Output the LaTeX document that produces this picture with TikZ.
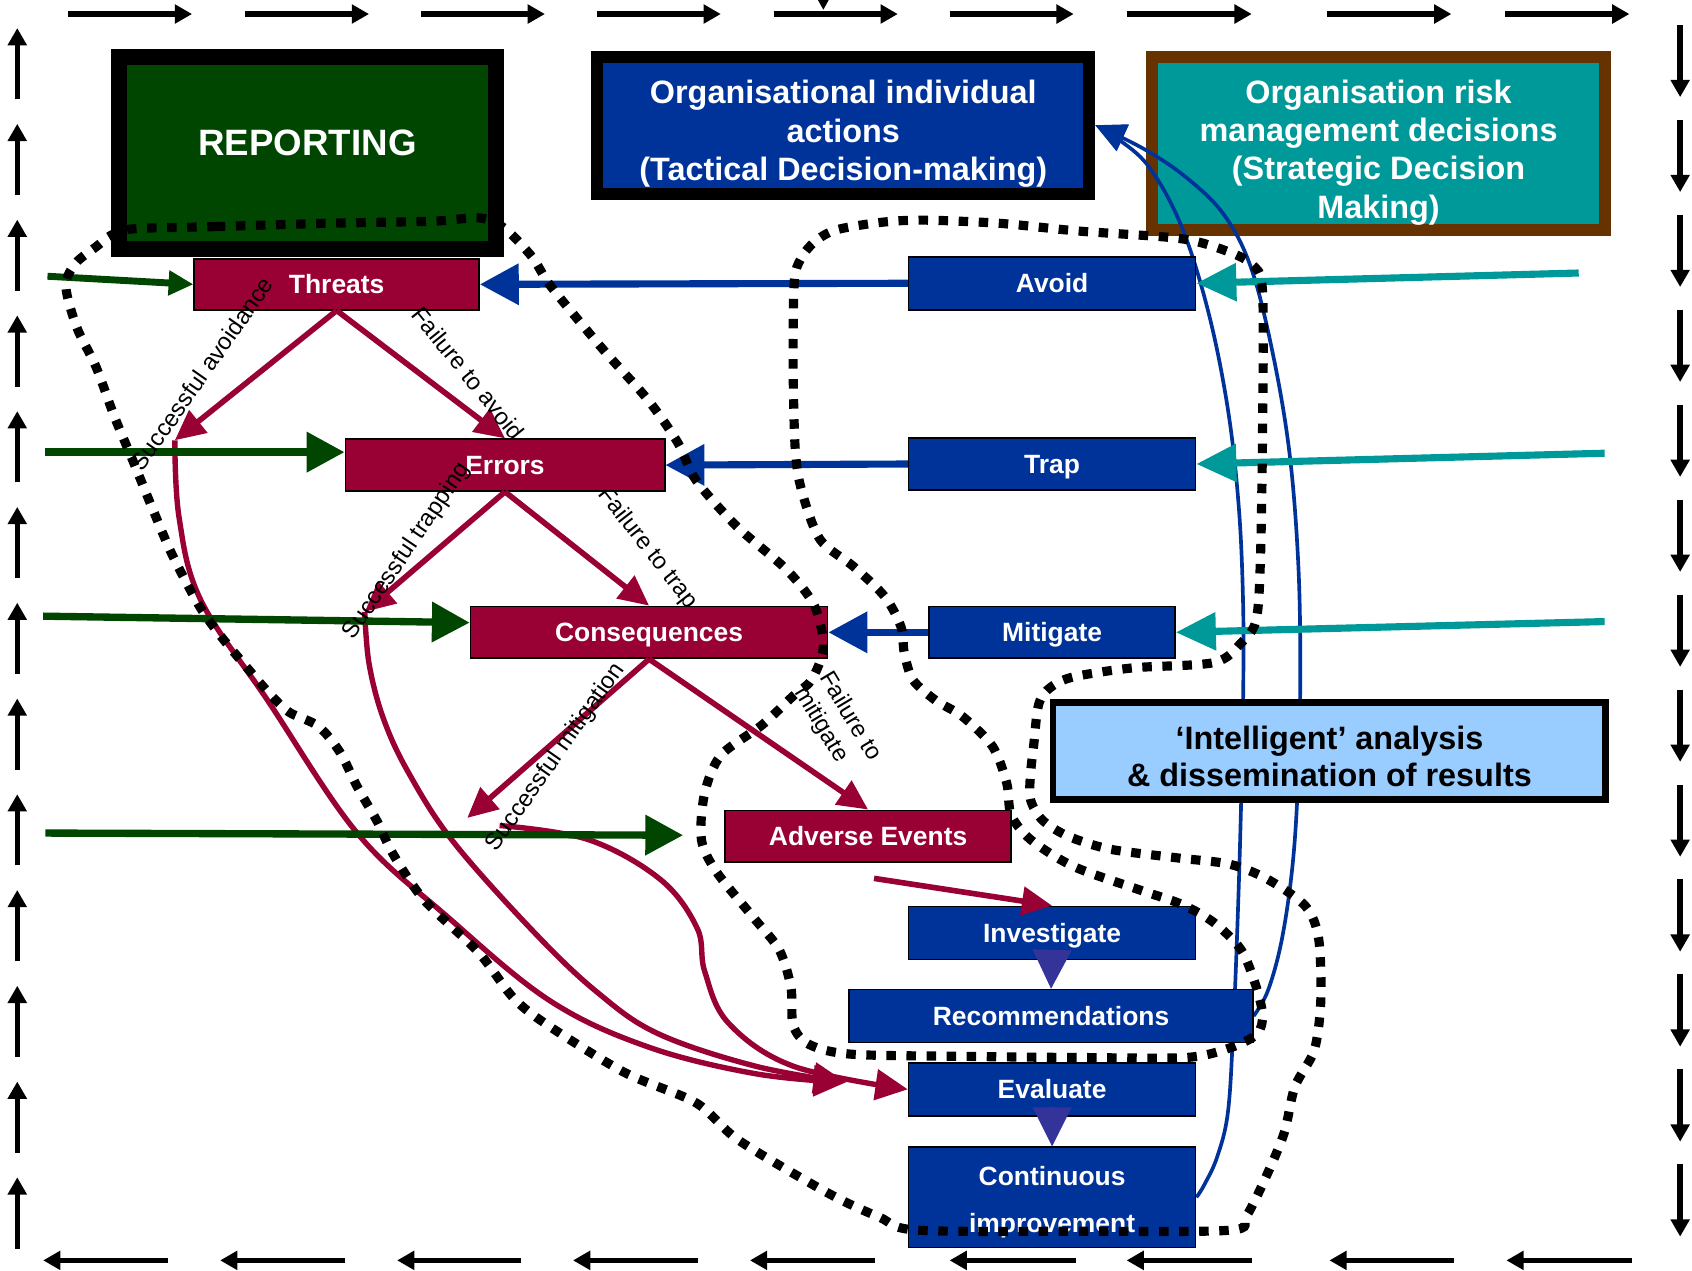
\documentclass[tikz,border=0pt]{standalone}
\usepackage{fontspec}
\setmainfont{Liberation Sans}
\usetikzlibrary{arrows.meta,calc}
\definecolor{cred}{RGB}{153,0,51}
\definecolor{cblue}{RGB}{0,51,153}
\definecolor{cgreen}{RGB}{0,70,0}
\definecolor{cteal}{RGB}{0,153,153}
\definecolor{cbrown}{RGB}{102,51,0}
\definecolor{clight}{RGB}{153,204,255}
\definecolor{cindigo}{RGB}{51,51,153}
\pgfdeclarelayer{bottom}
\pgfdeclarelayer{background}
\pgfdeclarelayer{foreground}
\pgfsetlayers{bottom,background,main,foreground}
\tikzset{
  bord/.style={line width=2.5pt,-{Triangle[length=8pt,width=8.5pt]}},
  smallbox/.style={draw=black,line width=0.75pt,inner sep=0pt,text=white,
     font=\fontsize{12.25pt}{14pt}\selectfont\bfseries,text height=8.8pt,text depth=0pt},
  redbox/.style={smallbox,fill=cred},
  bluebox/.style={smallbox,fill=cblue},
  bigtext/.style={text=white,font=\fontsize{15pt}{17.75pt}\selectfont\bfseries,align=center,inner sep=0pt,anchor=north},
  lab/.style={font=\fontsize{11pt}{13.5pt}\selectfont,inner sep=0pt,text=black},
  redarr/.style={draw=cred,line width=2.6pt,-{Triangle[length=14pt,width=13pt]}},
  redcurve/.style={draw=cred,line width=2.5pt,-{Triangle[length=15pt,width=14pt]}},
  greenarr/.style={draw=cgreen,line width=3.4pt,-{Triangle[length=17.5pt,width=18pt]}},
  greensmall/.style={draw=cgreen,line width=3.2pt,-{Triangle[length=11.5pt,width=11pt]}},
  bluearr/.style={draw=cblue,line width=3.3pt,-{Triangle[length=18pt,width=18.5pt]}},
  tealarr/.style={draw=cteal,line width=3.3pt,-{Triangle[length=18.5pt,width=17pt]}},
  bluecurve/.style={draw=cblue,line width=1.7pt,-{Triangle[length=14pt,width=13pt]}},
  indarr/.style={draw=cindigo,line width=0.5pt,-{Triangle[length=18pt,width=18pt]}},
  dotline/.style={draw=black,line width=4.25pt,dash pattern=on 4.4pt off 4.9pt,line cap=butt}
}
\begin{document}
\begin{tikzpicture}[x=0.5pt,y=-0.5pt]
\begin{pgfonlayer}{bottom}
\fill[white] (0,0) rectangle (1568,1177);
\end{pgfonlayer}
\useasboundingbox (0,0) rectangle (1568,1177);

% border arrows
\foreach \a/\b in {63/178,227/342,390/505,553/668,717/832,880/995,1044/1160,1230/1345,1395/1510}
  \draw[bord] (\a,13) -- (\b,13);
\foreach \a/\b in {156/40,320/204,483/368,647/531,811/695,997/880,1160/1044,1347/1232,1512/1396}
  \draw[bord] (\a,1168) -- (\b,1168);
\foreach \k in {0,...,12}
  \draw[bord] (16,{26+88.75*\k+66}) -- (16,{26+88.75*\k});
\foreach \k in {0,...,12}
  \draw[bord] (1557,{90+88*\k-67}) -- (1557,{90+88*\k});
\fill (758,0) -- (768,0) -- (763,9) -- cycle;

% big boxes
\node[draw=black,line width=7.5pt,fill=cgreen,minimum width=174.5pt,minimum height=89pt,inner sep=0pt] (rep) at (285,141.5) {};
\node[text=white,font=\fontsize{17pt}{20pt}\selectfont\bfseries,inner sep=0pt,text height=12.2pt,text depth=0pt] (reptxt) at (285,132) {REPORTING};

\node[draw=black,line width=5.5pt,fill=cblue,minimum width=228pt,minimum height=63.5pt,inner sep=0pt] (org) at (781.5,116) {};
\node[bigtext] (orgtxt) at (781.5,74) {Organisational individual\\actions\\(Tactical Decision-making)};

\begin{pgfonlayer}{background}
\node[draw=cbrown,line width=5.5pt,fill=cteal,minimum width=210pt,minimum height=80.5pt,inner sep=0pt] (risk) at (1277.5,133) {};
\end{pgfonlayer}
\node[bigtext,font=\fontsize{15pt}{17.65pt}\selectfont\bfseries] (risktxt) at (1277.5,74) {Organisation risk\\management decisions\\(Strategic Decision\\Making)};

\node[draw=black,line width=3pt,fill=clight,minimum width=256pt,minimum height=45pt,inner sep=0pt] (intel) at (1232,696) {};
\node[bigtext,text=black,font=\fontsize{15pt}{17.5pt}\selectfont\bfseries] (inteltxt) at (1232,672) {‘Intelligent’ analysis\\\& dissemination of results};

% small boxes
\node[redbox,minimum width=132pt,minimum height=23.5pt] (threats) at (312,263.5) {Threats};
\node[redbox,minimum width=148pt,minimum height=24pt] (errors) at (468,431) {Errors};
\node[redbox,minimum width=165.5pt,minimum height=24pt] (cons) at (601.5,586) {Consequences};
\node[redbox,minimum width=132.5pt,minimum height=24pt] (adv) at (804.5,775) {Adverse Events};
\node[bluebox,minimum width=133pt,minimum height=24.5pt] (avoid) at (975,262.5) {Avoid};
\node[bluebox,minimum width=133pt,minimum height=24pt] (trap) at (975,430) {Trap};
\node[bluebox,minimum width=114pt,minimum height=24pt] (mit) at (975,586) {Mitigate};
\node[bluebox,minimum width=133pt,minimum height=24.5pt] (inv) at (975,864.5) {Investigate};
\node[bluebox,minimum width=187pt,minimum height=24.5pt] (rec) at (974,941.5) {Recommendations};
\node[bluebox,minimum width=133pt,minimum height=24.5pt] (eval) at (975,1009.5) {Evaluate};
\node[bluebox,minimum width=133pt,minimum height=46.5pt] (cont) at (975,1109.5) {};
\node[bigtext,font=\fontsize{12.25pt}{22pt}\selectfont\bfseries] (conttxt) at (975,1080) {Continuous\\improvement};

% coordinates
\coordinate (sa) at (162,408);
\coordinate (st) at (338,567);
\coordinate (sm) at (433,758);
\coordinate (ae1) at (810,814);
\coordinate (cst) at (463,765);
\coordinate (ev1) at (784,1003);
\coordinate (g1) at (44,256);
\coordinate (g2) at (42,419);
\coordinate (g3) at (40,571);
\coordinate (g4) at (42,772);
\coordinate (g4e) at (633,774);
\coordinate (t1) at (1463,253);
\coordinate (t2) at (1487,420);
\coordinate (t3) at (1487,576);

% background: blue feedback curves, hidden label
\begin{pgfonlayer}{background}
\draw[bluecurve] plot[smooth,tension=0.6] coordinates {(rec.east) (1175,918) (1188,870) (1198,800) (1203,720) (1205,620) (1203,520) (1195,420) (1180,330) (1160,250) (1135,200) (1100,165) (1060,138) (org.east)};
\draw[bluecurve] plot[smooth,tension=0.6] coordinates {(cont.east) (1116,1098) (1128,1072) (1138,1030) (1143,950) (1147,850) (1150,750) (1152,650) (1152,560) (1148,470) (1138,380) (1120,290) (1095,210) (1065,155) (1035,128) (org.east)};
\node[lab,rotate=-52] (lftp) at (600,508) {Failure to trap};
\end{pgfonlayer}

% red curves
\draw[redcurve] plot[smooth,tension=0.6] coordinates {(sa) (166,480) (186,556) (248,649) (331,772) (414,849) (509,927) (600,970) (700,995) (ev1)};
\draw[redcurve] plot[smooth,tension=0.6] coordinates {(st) (342,615) (355,665) (378,715) (420,780) (496,865) (554,920) (610,958) (700,988) (ev1)};
\draw[redcurve] plot[smooth,tension=0.6] coordinates {(cst) (545,778) (612,815) (646,860) (653,900) (675,948) (735,988) (eval.west)};

% red straight arrows
\draw[redarr] (threats.south) -- (sa);
\draw[redarr] (threats.south) -- (errors.north);
\draw[redarr] (errors.south) -- (st);
\draw[redarr] (errors.south) -- (cons.north);
\draw[redarr] (cons.south) -- (sm);
\draw[redarr] (cons.south) -- (adv.north);
\draw[redarr] (ae1) -- (inv.north);

% green arrows
\draw[greensmall] (g1) -- (threats.west);
\draw[greenarr] (g2) -- (g2 -| errors.west);
\draw[greenarr] (g3) -- ($(cons.west)+(0,-9)$);
\draw[greenarr] (g4) -- (g4e);

% blue arrows
\draw[bluearr] (avoid.west) -- (threats.east);
\draw[bluearr] (trap.west) -- (errors.east);
\draw[bluearr] (mit.west) -- (cons.east);

% teal arrows
\draw[tealarr] (t1) -- (avoid.east);
\draw[tealarr] (t2) -- (trap.east);
\draw[tealarr] (t3) -- (mit.east);

% indigo arrows
\draw[indarr] ($(inv.south)+(0,-10)$) -- (rec.north);
\draw[indarr] ($(eval.south)+(0,-10)$) -- (cont.north);

% labels
\node[lab,rotate=55] (lsav) at (187,346) {Successful avoidance};
\node[lab,rotate=-51] (lfav) at (434,346) {Failure to avoid};
\node[lab,rotate=56] (lstp) at (377,511) {Successful trapping};
\node[lab,rotate=55] (lsmt) at (515,702) {Successful mitigation};
\node[lab,rotate=-59,align=left] (lfmt) at (776,671) {Failure to\\mitigate};

% dotted loop
\begin{pgfonlayer}{foreground}
\draw[dotline] plot[smooth cycle,tension=0.5] coordinates {
(124,212) (200,210) (300,207) (400,205) (445,202) (468,212) (493,238) (511,266) (559,324) (600,370) (628,410) (645,445) (683,488) (729,528) (755,562) (763,600) (752,630) (735,645) (706,672) (668,700) (653,735) (650,778) (664,808) (698,850) (722,880) (733,915) (735,950) (750,968) (790,977) (900,979) (1000,980) (1099,980) (1140,971) (1165,958) (1170,940) (1163,911) (1150,880) (1125,855) (1095,838) (1057,825) (995,803) (955,778) (937,755) (933,726) (920,692) (892,664) (867,649) (846,630) (838,605) (835,581) (820,553) (791,525) (760,500) (743,455) (737,417) (735,340) (736,262) (742,240) (755,224) (775,213) (817,206) (857,204) (927,207) (998,214) (1093,221) (1135,232) (1160,245) (1170,270) (1170,400) (1168,520) (1164,575) (1150,596) (1125,614) (1049,619) (992,628) (970,640) (962,655) (958,690) (955,717) (955,741) (966,760) (990,775) (1029,787) (1091,795) (1140,801) (1175,815) (1210,840) (1222,870) (1224,927) (1218,973) (1200,1007) (1190,1050) (1173,1091) (1155,1127) (1140,1140) (1000,1141) (850,1140) (815,1128) (768,1106) (685,1057) (645,1022) (579,994) (509,951) (476,925) (443,882) (393,834) (364,791) (350,762) (331,729) (315,697) (295,673) (268,660) (250,643) (230,620) (205,590) (185,562) (160,515) (142,473) (124,429) (106,386) (89,340) (71,303) (61,265) (70,244) (90,228) (103,218)};
\end{pgfonlayer}
\end{tikzpicture}
\end{document}
